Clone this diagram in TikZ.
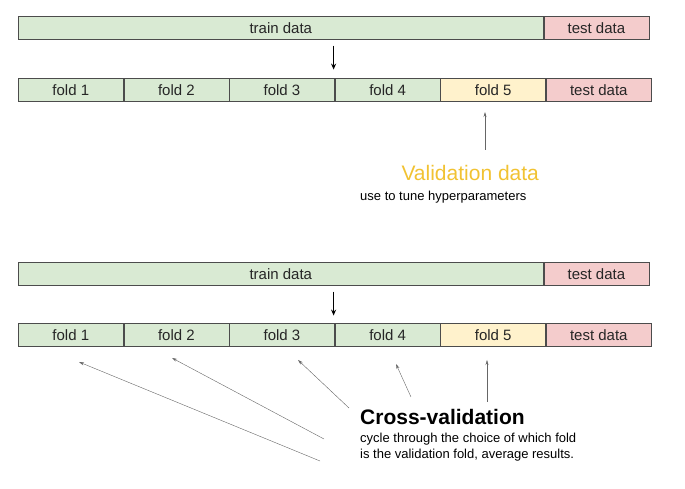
\documentclass[tikz,border=0pt]{standalone}
\usepackage{fontspec}
\setmainfont{Liberation Sans}
\usetikzlibrary{positioning,arrows.meta}

\definecolor{traingreen}{HTML}{D9EAD3}
\definecolor{valyellow}{HTML}{FFF2CC}
\definecolor{testred}{HTML}{F4CCCC}
\definecolor{valorange}{HTML}{F1C232}

\tikzset{
    cell/.style={draw=black!70, line width=0.6pt, minimum height=23pt, inner sep=0pt, font=\fontsize{15}{15}\selectfont, text=black!85},
    fold/.style={cell, fill=traingreen, minimum width=105pt},
    valfold/.style={cell, fill=valyellow, minimum width=105pt},
    test/.style={cell, fill=testred, minimum width=105pt},
    train/.style={cell, fill=traingreen, minimum width=525pt},
    down/.style={-{Stealth[length=6pt,width=5pt]}, line width=1pt},
    pointer/.style={-{Stealth[length=5pt,width=3pt]}, line width=0.4pt, black!60}
}

\begin{document}
\begin{tikzpicture}[x=1pt, y=1pt]
    \useasboundingbox (0,0) rectangle (685,489);

    % Upper split
    \node[train, anchor=north west] (trainA) at (18,473) {train data};
    \node[test, right=0pt of trainA] (testA) {test data};
    \node[fold, anchor=north west] (fA1) at (18,411) {fold 1};
    \node[fold, right=0pt of fA1] (fA2) {fold 2};
    \node[fold, right=0pt of fA2] (fA3) {fold 3};
    \node[fold, right=0pt of fA3] (fA4) {fold 4};
    \node[valfold, right=0pt of fA4] (fA5) {fold 5};
    \node[test, right=0pt of fA5] (testB) {test data};
    \draw[down] (trainA.south east) ++(-210,-6) -- ++(0,-24);

    \node[anchor=west, text=valorange, font=\fontsize{21}{21}\selectfont] (valtitle) at (398,316) {Validation data};
    \node[anchor=north west, font=\fontsize{13}{13}\selectfont, inner sep=0pt] (valtext) at (360,298) {use to tune hyperparameters};
    \coordinate (vtail) at (485,339);
    \coordinate (vhead) at (485,377);
    \draw[pointer, line width=0.6pt] (vtail) -- (vhead);

    % Lower split
    \node[train, anchor=north west] (trainB) at (18,227) {train data};
    \node[test, right=0pt of trainB] (testC) {test data};
    \node[fold, anchor=north west] (fB1) at (18,166) {fold 1};
    \node[fold, right=0pt of fB1] (fB2) {fold 2};
    \node[fold, right=0pt of fB2] (fB3) {fold 3};
    \node[fold, right=0pt of fB3] (fB4) {fold 4};
    \node[valfold, right=0pt of fB4] (fB5) {fold 5};
    \node[test, right=0pt of fB5] (testD) {test data};
    \draw[down] (trainB.south east) ++(-210,-6) -- ++(0,-24);

    \node[anchor=west, font=\bfseries\fontsize{21}{21}\selectfont, inner sep=0pt] (cvtitle) at (360,72) {Cross-validation};
    \node[anchor=north west, align=left, font=\fontsize{13}{16}\selectfont, inner sep=0pt] (cvtext) at (360,56)
        {cycle through the choice of which fold\\is the validation fold, average results.};

    \coordinate (t1) at (320,28);
    \coordinate (t2) at (324,50);
    \coordinate (t3) at (349,81);
    \coordinate (t4) at (411,92);
    \coordinate (t5) at (487,87);
    \coordinate (h1) at (79,127);
    \coordinate (h2) at (172,131);
    \coordinate (h3) at (298,129);
    \coordinate (h4) at (396,125);
    \coordinate (h5) at (487,129);
    \foreach \i in {1,...,5}
        \draw[pointer] (t\i) -- (h\i);
\end{tikzpicture}
\end{document}
